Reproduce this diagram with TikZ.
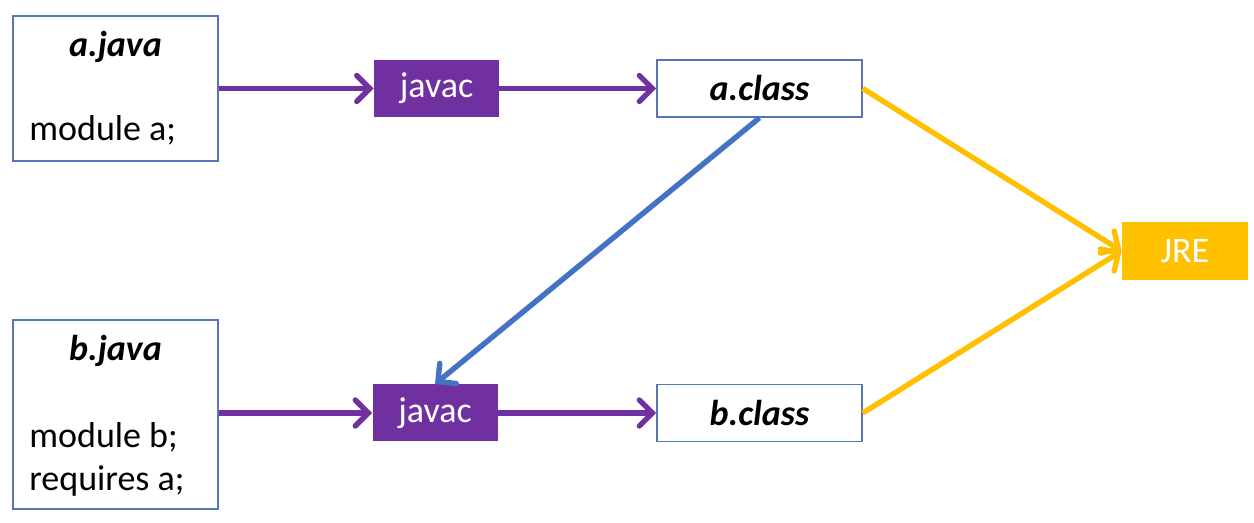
\documentclass[tikz,border=0pt]{standalone}
\usepackage{fontspec}
\setmainfont{Carlito}
\usetikzlibrary{arrows.meta,positioning}
\definecolor{grape}{HTML}{7030A0}
\definecolor{steel}{HTML}{4472C4}
\definecolor{amber}{HTML}{FFC000}
\definecolor{frame}{HTML}{5577B8}
\newcommand{\slidefont}{\fontsize{18}{21.5}\selectfont}

\tikzset{
  srcbox/.style={draw=frame,line width=0.8pt,fill=white,minimum width=102.5pt,inner sep=0pt},
  fname/.style={font=\slidefont\bfseries\itshape},
  clsbox/.style={draw=frame,line width=0.8pt,fill=white,minimum width=102.5pt,minimum height=28.5pt,
                 inner sep=0pt,fname},
  tool/.style={fill=grape,text=white,minimum width=62.5pt,minimum height=28.5pt,inner sep=0pt},
  runtime/.style={fill=amber,text=white,minimum width=63pt,minimum height=29pt,inner sep=0pt},
  flow/.style={line width=2.7pt,-{Straight Barb[length=6.5pt,width=13pt,line cap=round]}},
}

\begin{document}
\begin{tikzpicture}[x=0.5pt,y=-0.5pt,font=\slidefont]
  \useasboundingbox (0,0) rectangle (1254,523);
  % sources
  \node[srcbox,minimum height=72.5pt] (ajava) at (115.5,88.5) {};
  \node[fname] (ajavaname) at (115.5,47) {a.java};
  \node[anchor=west,inner sep=0pt] (ajavabody) at (29,130) {module a;};
  \node[srcbox,minimum height=94.5pt] (bjava) at (115.5,414.5) {};
  \node[fname] (bjavaname) at (115.5,351) {b.java};
  \node[anchor=west,inner sep=0pt,align=left] (bjavabody) at (29,459) {module b;\\requires a;};
  % compilers
  \node[tool] (javaca) at (436.5,88.5) {javac};
  \node[tool] (javacb) at (435,413) {javac};
  % outputs
  \node[clsbox] (aclass) at (759.5,88.5) {a.class};
  \node[clsbox] (bclass) at (759.5,413) {b.class};
  \node[runtime] (jre) at (1185,251) {JRE};
  % arrows
  \draw[flow,grape] (ajava.east) -- (javaca.west);
  \draw[flow,grape] (javaca) -- (aclass);
  \draw[flow,grape] (bjava.east |- javacb) -- (javacb.west);
  \draw[flow,grape] (javacb) -- (bclass);
  \draw[flow,steel] (aclass.south) -- (javacb.north);
  \draw[flow,amber] (aclass.east) -- (jre.west);
  \draw[flow,amber] (bclass.east) -- (jre.west);
\end{tikzpicture}
\end{document}
